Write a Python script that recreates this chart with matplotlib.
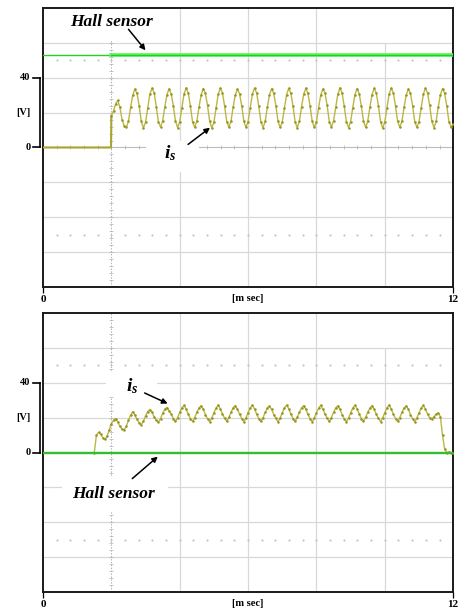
import numpy as np
import matplotlib.pyplot as plt
from matplotlib.patches import Rectangle

plt.rcParams['mathtext.fontset'] = 'custom'
plt.rcParams['mathtext.rm'] = 'Liberation Serif'
plt.rcParams['mathtext.it'] = 'Liberation Serif:italic'
plt.rcParams['mathtext.bf'] = 'Liberation Serif:bold'
plt.rcParams['mathtext.bfit'] = 'Liberation Serif:italic:bold'
SERIF = 'Liberation Serif'

# ---- data ----
t_end = 12.0
dt = 0.0625

# top panel: hall sensor level [V] and current trace
hall_top = 53.0
trig_top = 2.0
is_top_pre_t = [0.0, 1.99]
is_top_pre_v = [0.0, 0.0]
is_top_start = 2.0
is_top_head = [18.0, 21.0, 25.0, 27.0, 23.0, 16.0, 12.5]
is_top_periods = [
    [11.5, 15.0, 23.0, 30.0, 33.5, 31.0, 24.0, 15.0],
    [11.2, 14.5, 22.5, 30.5, 34.0, 31.5, 23.5, 14.8],
    [11.8, 15.2, 23.2, 30.2, 33.6, 30.8, 23.8, 15.2],
    [11.4, 14.8, 22.8, 30.6, 34.2, 31.2, 23.6, 14.6],
    [11.6, 15.0, 23.0, 30.0, 33.8, 31.0, 24.2, 15.0],
    [11.3, 14.6, 22.6, 30.4, 34.0, 31.4, 23.8, 14.8],
    [11.7, 15.1, 23.1, 30.1, 33.5, 30.9, 23.9, 15.1],
    [11.5, 14.9, 22.9, 30.5, 34.1, 31.3, 23.7, 14.7],
    [11.4, 15.0, 23.0, 30.2, 33.7, 31.1, 24.0, 15.0],
    [11.6, 14.7, 22.7, 30.3, 33.9, 31.2, 23.8, 14.9],
    [11.3, 15.0, 23.2, 30.4, 34.0, 31.0, 23.9, 15.0],
    [11.5, 14.8, 22.8, 30.1, 33.6, 31.3, 24.1, 14.8],
    [11.7, 15.2, 23.0, 30.5, 34.2, 31.1, 23.6, 14.9],
    [11.4, 14.9, 22.9, 30.2, 33.8, 30.9, 23.8, 15.1],
    [11.6, 15.0, 23.1, 30.3, 33.9, 31.2, 24.0, 14.7],
    [11.2, 14.7, 22.7, 30.6, 34.1, 31.4, 23.7, 15.0],
    [11.5, 15.1, 23.0, 30.0, 33.6, 31.0, 23.9, 14.8],
    [11.6, 14.8, 22.8, 30.4, 34.0, 31.2, 24.1, 15.0],
    [11.4, 15.0, 23.1, 30.2, 33.8, 31.1, 23.8, 14.9],
]
is_top_tail = [11.6, 13.5]

# bottom panel
hall_bot = 0.0
is_bot_pre_t = [0.0, 1.5]
is_bot_pre_v = [0.0, 0.0]
is_bot_start = 1.5
is_bot_head = [0.0, 10.0, 11.5, 10.5, 8.5, 7.5, 9.5, 13.0, 16.5, 18.5,
               19.5, 17.5, 15.0, 13.5, 13.0, 15.0, 18.5, 21.5,
               23.4, 21.5, 19.0, 17.0, 16.0, 18.0, 21.0, 23.5,
               24.6, 23.0, 20.5, 18.5, 17.5, 19.5, 22.5, 24.8,
               25.8, 24.0, 22.0, 19.5, 17.8, 20.0, 23.0, 25.5]
is_bot_periods = [
    [27.0, 25.0, 22.0, 19.5, 17.8, 20.0, 23.0, 25.5],
    [26.8, 24.8, 21.8, 19.4, 17.6, 19.8, 22.8, 25.4],
    [27.2, 25.1, 22.1, 19.6, 17.9, 20.1, 23.1, 25.6],
    [26.9, 24.9, 21.9, 19.5, 17.7, 19.9, 22.9, 25.5],
    [27.1, 25.0, 22.0, 19.4, 17.8, 20.0, 23.0, 25.4],
    [26.7, 24.8, 21.8, 19.6, 17.6, 19.8, 22.8, 25.6],
    [27.2, 25.2, 22.1, 19.5, 17.9, 20.1, 23.1, 25.5],
    [26.9, 24.9, 21.9, 19.4, 17.7, 19.9, 22.9, 25.4],
    [27.0, 25.0, 22.0, 19.6, 17.8, 20.0, 23.0, 25.6],
    [26.8, 24.8, 21.8, 19.5, 17.6, 19.8, 22.8, 25.5],
    [27.1, 25.1, 22.1, 19.4, 17.9, 20.1, 23.1, 25.4],
    [26.9, 24.9, 21.9, 19.6, 17.7, 19.9, 22.9, 25.6],
    [27.2, 25.0, 22.0, 19.5, 17.8, 20.0, 23.0, 25.5],
    [26.8, 24.8, 21.8, 19.4, 17.6, 19.8, 22.8, 25.4],
]
is_bot_last = [27.0, 25.0, 22.0, 20.0, 19.2, 20.5, 22.0, 22.8]
is_bot_tail = [20.5, 10.0, 2.0, 0.0, 0.3, 0.0, 0.0]

is_top_v = np.array(is_top_head + sum(is_top_periods, []) + is_top_tail)
is_top_t = is_top_start + dt * np.arange(len(is_top_v))
is_bot_v = np.array(is_bot_head + sum(is_bot_periods, []) + is_bot_last + is_bot_tail)
is_bot_t = is_bot_start + dt * np.arange(len(is_bot_v))

IS_COL = '#bcb743'
IS_DOT = '#96931f'
GRID = '#d8d8d8'

fig = plt.figure(figsize=(4.64, 6.14), dpi=100)
ax_top = fig.add_axes([0.0927, 0.5326, 0.884, 0.4544])
ax_bot = fig.add_axes([0.0927, 0.0358, 0.884, 0.4544])


def scope_frame(ax, zero_ticks):
    ax.set_xlim(0, 12)
    ax.set_ylim(-80, 80)
    for y in [-60, -40, -20, 20, 40, 60]:
        ax.axhline(y, color=GRID, lw=0.9, zorder=0.5)
    for x in [4, 6, 8]:
        ax.axvline(x, color=GRID, lw=0.9, zorder=0.5)
    ax.vlines(10, -80, 60, color=GRID, lw=0.9, zorder=0.5)
    # trigger marker line at 2 ms
    ax.axvline(2, color='#b4b4b4', lw=0.7, ls=(0, (1.5, 1.5)), zorder=0.6)
    yy = np.arange(-76, 80, 4)
    ax.plot(np.full(len(yy), 2.0), yy, ls='none', marker='_', ms=3,
            mew=0.5, color='#b0b0b0', zorder=0.6)
    # dotted rows
    xx = np.arange(0.4, 12, 0.4)
    for y in [50, -50]:
        ax.plot(xx, np.full(len(xx), y), ls='none', marker='.', ms=1.2,
                color='#c4c4c4', zorder=0.6)
    if zero_ticks:
        ax.axhline(0, color='#bcbcbc', lw=0.8, zorder=0.6)
        ax.plot(xx, np.zeros(len(xx)), ls='none', marker='|', ms=3,
                mew=0.5, color='#b0b0b0', zorder=0.6)
    for s in ax.spines.values():
        s.set_color('#1a1a1a')
        s.set_linewidth(1.4)
    ax.set_yticks([])
    ax.set_xticks([0, 12])
    ax.set_xticklabels(['0', '12'], fontfamily=SERIF, fontweight='bold',
                       fontsize=8)
    ax.tick_params(axis='x', length=4, width=0.9, pad=2)
    ax.text(0.5, -0.026, '[m sec]', transform=ax.transAxes, ha='center',
            va='top', fontfamily=SERIF, fontweight='bold', fontsize=7.5)
    # y bracket
    tr = ax.get_yaxis_transform()
    ax.plot([-0.008, -0.008], [0, 40], transform=tr, color='k', lw=1.2,
            clip_on=False)
    for y in [0, 40]:
        ax.plot([-0.025, -0.008], [y, y], transform=tr, color='k', lw=1.2,
                clip_on=False)
        ax.text(-0.03, y, str(y), transform=tr, ha='right', va='center',
                fontfamily=SERIF, fontweight='bold', fontsize=7.5)
    ax.text(-0.03, 20, '[V]', transform=tr, ha='right', va='center',
            fontfamily=SERIF, fontweight='bold', fontsize=7.5)


scope_frame(ax_top, True)
scope_frame(ax_bot, False)

# ---- top panel traces ----
ax_top.plot([0, trig_top], [hall_top, hall_top], color='#1fd51f', lw=1.0,
            zorder=3)
ax_top.plot([trig_top, t_end], [hall_top, hall_top], color='#5cf05c', lw=2.6,
            zorder=3)
ax_top.plot([trig_top, t_end], [hall_top, hall_top], color='#19d419', lw=0.9,
            zorder=3)
ax_top.plot(is_top_pre_t + [is_top_t[0]], is_top_pre_v + [is_top_v[0]],
            color='#a9a330', lw=1.5, zorder=3)
ax_top.plot(is_top_t, is_top_v, color=IS_COL, lw=1.0, marker='.', ms=1.6,
            mfc=IS_DOT, mec=IS_DOT, zorder=3)

ax_top.add_patch(Rectangle((0.5, 61), 3.1, 19, facecolor='white',
                           edgecolor='none', zorder=1))
ax_top.add_patch(Rectangle((3.0, -14), 1.55, 18, facecolor='white',
                           edgecolor='none', zorder=1))
ax_top.text(0.78, 72, 'Hall sensor', ha='left', va='center', fontfamily=SERIF,
            fontweight='bold', fontstyle='italic', fontsize=12.5, zorder=5)
ax_top.annotate('', xy=(3.05, 54.5), xytext=(2.45, 69),
                arrowprops=dict(arrowstyle='-|>', color='k', lw=1.1,
                                mutation_scale=8), zorder=5)
ax_top.text(3.55, -3.5, r'$\mathbfit{i_s}$', ha='left', va='center',
            fontsize=14, zorder=5)
ax_top.annotate('', xy=(4.95, 12.3), xytext=(4.18, 0.8),
                arrowprops=dict(arrowstyle='-|>', color='k', lw=1.1,
                                mutation_scale=8), zorder=5)

# ---- bottom panel traces ----
ax_bot.plot(is_bot_pre_t, is_bot_pre_v, color='#a9a330', lw=1.5, zorder=3)
ax_bot.plot([0, t_end], [hall_bot, hall_bot], color='#2fbf2f', lw=1.7,
            zorder=3.5)
ax_bot.plot(is_bot_t, is_bot_v, color=IS_COL, lw=1.0, marker='.', ms=1.6,
            mfc=IS_DOT, mec=IS_DOT, zorder=3)

ax_bot.add_patch(Rectangle((1.84, 32), 1.5, 14, facecolor='white',
                           edgecolor='none', zorder=1))
ax_bot.add_patch(Rectangle((0.56, -33.7), 3.1, 20.5, facecolor='white',
                           edgecolor='none', zorder=1))
ax_bot.text(2.42, 38, r'$\mathbfit{i_s}$', ha='left', va='center',
            fontsize=14, zorder=5)
ax_bot.annotate('', xy=(3.72, 27.4), xytext=(2.9, 34.8),
                arrowprops=dict(arrowstyle='-|>', color='k', lw=1.1,
                                mutation_scale=8), zorder=5)
ax_bot.text(0.85, -24, 'Hall sensor', ha='left', va='center', fontfamily=SERIF,
            fontweight='bold', fontstyle='italic', fontsize=12.5, zorder=5)
ax_bot.annotate('', xy=(3.42, -1.3), xytext=(2.55, -16),
                arrowprops=dict(arrowstyle='-|>', color='k', lw=1.1,
                                mutation_scale=8), zorder=5)

fig.savefig('out.png', dpi=100)
